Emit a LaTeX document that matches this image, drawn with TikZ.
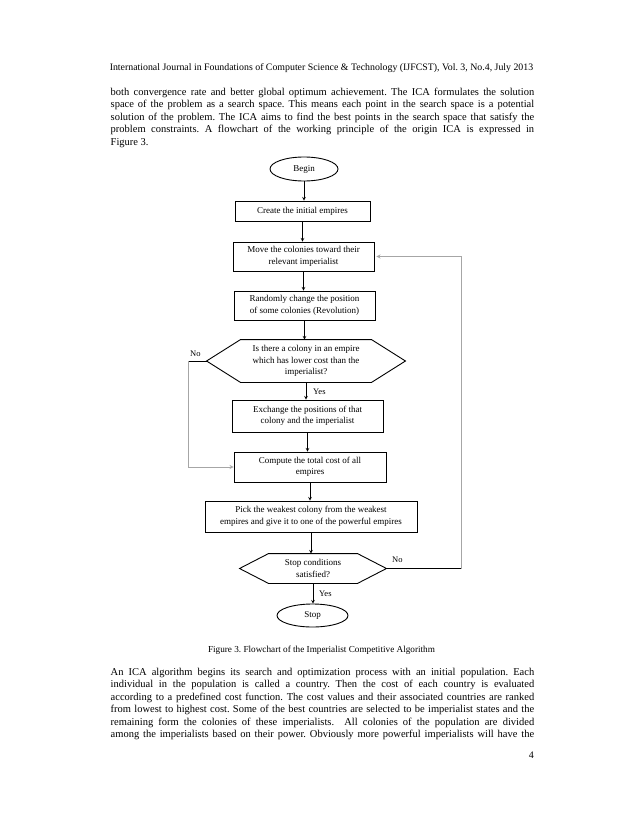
\documentclass[tikz,border=0pt]{standalone}
\usepackage{fontspec}
\setmainfont{Liberation Serif}
\usetikzlibrary{shapes}
\frenchspacing

\tikzset{
  box/.style={draw, line width=0.9pt, inner sep=0pt, align=center, font=\fontsize{9}{11.5}\selectfont},
  term/.style={box, ellipse},
  flow/.style={->, >=stealth, line width=0.6pt},
  back/.style={->, >=stealth, line width=0.8pt, black!35},
  lbl/.style={font=\fontsize{8.5}{10}\selectfont, inner sep=0pt},
  txt/.style={font=\fontsize{10.5}{12.5}\selectfont, inner sep=0pt, anchor=base west}
}

\begin{document}
\begin{tikzpicture}[x=1pt, y=-1pt]
% Page
\fill[white] (0,0) rectangle (638,826);
\useasboundingbox (0,0) rectangle (638,826);

% Header
\node[anchor=base, inner sep=0pt, font=\fontsize{9.85}{12}\selectfont] (head) at (321.5,71)
  {International Journal in Foundations of Computer Science \& Technology (IJFCST), Vol. 3, No.4, July 2013};

% Paragraph before the figure
\foreach \line [count=\i from 0] in {
    {both convergence rate and better global optimum achievement. The ICA formulates the solution},
    {space of the problem as a search space. This means each point in the search space is a potential},
    {solution of the problem. The ICA aims to find the best points in the search space that satisfy the},
    {problem constraints. A flowchart of the working principle of the origin ICA is expressed in}} {
  \node[txt] (top\i) at (110.5,{95.5+12.5*\i}) {\makebox[423.5pt][s]{\line}};
}
\node[txt] (top4) at (110.5,145.5) {Figure 3.};

% Flowchart
\node[term, minimum width=68pt, minimum height=24pt] (begin) at (304,169) {Begin};
\node[box, minimum width=135pt, minimum height=20pt] (init) at (302.5,211) {Create the initial empires};
\node[box, minimum width=141pt, minimum height=29pt] (move) at (303.5,256.5) {Move the colonies toward their\\relevant imperialist};
\node[box, minimum width=141pt, minimum height=29pt] (rand) at (304.5,305.5) {Randomly change the position\\of some colonies (Revolution)};
\node[box, draw=none, minimum width=198pt, minimum height=42pt] (ask) at (306,361) {Is there a colony in an empire\\which has lower cost than the\\imperialist?};
\node[box, minimum width=151pt, minimum height=32pt] (swap) at (307.5,416) {Exchange the positions of that\\colony and the imperialist};
\node[box, minimum width=152pt, minimum height=30pt] (cost) at (310,467) {Compute the total cost of all\\empires};
\node[box, minimum width=212pt, minimum height=31pt] (pick) at (311,516.5) {Pick the weakest colony from the weakest\\empires and give it to one of the powerful empires};
\node[box, draw=none, minimum width=146pt, minimum height=29pt] (cond) at (313,568.5) {Stop conditions\\satisfied?};
\node[term, minimum width=71pt, minimum height=23pt] (stop) at (312.5,615.5) {Stop};

% Hexagons for the two decisions
\draw[line width=0.9pt] (ask.west) -- ([xshift=34pt]ask.north west) -- ([xshift=-34pt]ask.north east)
  -- (ask.east) -- ([xshift=-34pt]ask.south east) -- ([xshift=34pt]ask.south west) -- cycle;
\draw[line width=0.9pt] (cond.west) -- ([xshift=29pt]cond.north west) -- ([xshift=-29pt]cond.north east)
  -- (cond.east) -- ([xshift=-29pt]cond.south east) -- ([xshift=29pt]cond.south west) -- cycle;

% Main flow
\draw[flow] (begin.south) -- (begin.south |- init.north);
\draw[flow] (init.south) -- (init.south |- move.north);
\draw[flow] (move.south) -- (move.south |- rand.north);
\draw[flow] (rand.south) -- (rand.south |- ask.north);
\draw[flow] (ask.south) -- (ask.south |- swap.north);
\draw[flow] (swap.south) -- (swap.south |- cost.north);
\draw[flow] (cost.south) -- (cost.south |- pick.north);
\draw[flow] (pick.south) -- (pick.south |- cond.north);
\draw[flow] (cond.south) -- (cond.south |- stop.north);

% No branches
\draw[line width=0.8pt] (ask.west) -- ++(-18,0) coordinate (noL);
\draw[back] (noL) |- (cost.west);
\draw[line width=0.8pt] (cond.east) -- ++(75,0) coordinate (noR);
\draw[back] (noR) |- ([xshift=2pt]move.east);

% Labels
\node[lbl, anchor=base west] (no1) at (190,356) {No};
\node[lbl, anchor=base west] (yes1) at (313,394) {Yes};
\node[lbl, anchor=base west] (no2) at (392,562) {No};
\node[lbl, anchor=base west] (yes2) at (319,596.5) {Yes};

% Caption
\node[anchor=base, inner sep=0pt, font=\fontsize{9.2}{11}\selectfont] (cap) at (321.5,652)
  {Figure 3. Flowchart of the Imperialist Competitive Algorithm};

% Paragraph after the figure
\foreach \line [count=\i from 0] in {
    {An ICA algorithm begins its search and optimization process with an initial population. Each},
    {individual in the population is called a country. Then the cost of each country is evaluated},
    {according to a predefined cost function. The cost values and their associated countries are ranked},
    {from lowest to highest cost. Some of the best countries are selected to be imperialist states and the},
    {remaining form the colonies of these imperialists. \ All colonies of the population are divided},
    {among the imperialists based on their power. Obviously more powerful imperialists will have the}} {
  \node[txt] (low\i) at (110.5,{675.5+12.45*\i}) {\makebox[423.5pt][s]{\line}};
}

% Page number
\node[anchor=base east, inner sep=0pt, font=\fontsize{10}{12}\selectfont] (page) at (534,758) {4};
\end{tikzpicture}
\end{document}
